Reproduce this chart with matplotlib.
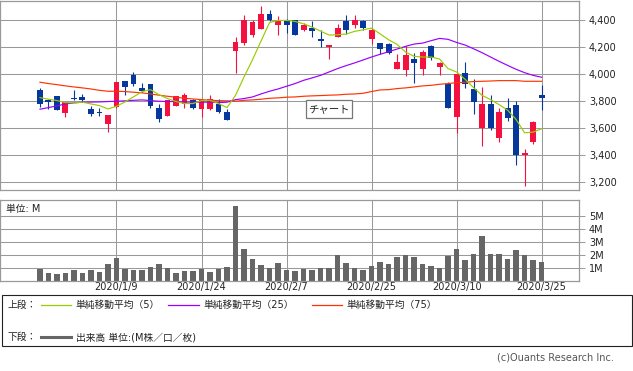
import numpy as np
import matplotlib
matplotlib.use("Agg")
import matplotlib.pyplot as plt
from matplotlib.lines import Line2D
from matplotlib.patches import Rectangle

plt.rcParams['font.family'] = ['DejaVu Sans', 'Noto Sans CJK JP']

# -------------------------
# Data
# -------------------------
opens = [3887, 3813, 3838, 3715, 3823, 3831, 3742, 3717, 3634, 3759,
         3949, 3993, 3897, 3927, 3752, 3690, 3764, 3784, 3808, 3742,
         3740, 3784, 3720, 4173, 4232, 4292, 4336, 4449, 4363, 4407,
         4407, 4329, 4343, 4264, 4205, 4277, 4393, 4363, 4393, 4260,
         4230, 4225, 4043, 4035, 4112, 4038, 4208, 4055, 3932, 3685,
         4011, 3890, 3599, 3779, 3530, 3749, 3772, 3399, 3500, 3850]
highs = [3897, 3820, 3838, 3794, 3882, 3858, 3764, 3754, 3700, 3944,
         3949, 4016, 3934, 3927, 3779, 3808, 3838, 3860, 3821, 3821,
         3845, 3816, 3742, 4277, 4437, 4407, 4504, 4481, 4430, 4412,
         4407, 4380, 4395, 4331, 4218, 4375, 4437, 4437, 4407, 4341,
         4230, 4232, 4149, 4210, 4161, 4178, 4215, 4092, 3944, 4001,
         4092, 3969, 3907, 3850, 3754, 3828, 3801, 3446, 3656, 3920]
lows = [3759, 3740, 3735, 3685, 3813, 3794, 3690, 3690, 3574, 3754,
        3846, 3912, 3870, 3754, 3646, 3690, 3764, 3749, 3742, 3685,
        3735, 3717, 3663, 4011, 4220, 4277, 4336, 4395, 4292, 4306,
        4292, 4321, 4277, 4203, 4114, 4277, 4301, 4346, 4331, 4227,
        4154, 4149, 4043, 3986, 3939, 3996, 4109, 3998, 3752, 3562,
        3902, 3710, 3471, 3587, 3500, 3656, 3330, 3175, 3481, 3735]
closes = [3784, 3797, 3735, 3794, 3818, 3808, 3705, 3715, 3700, 3942,
          3907, 3927, 3880, 3764, 3670, 3808, 3838, 3850, 3749, 3813,
          3816, 3722, 3663, 4237, 4407, 4385, 4449, 4405, 4393, 4363,
          4292, 4366, 4321, 4247, 4218, 4341, 4329, 4407, 4341, 4326,
          4186, 4161, 4090, 4141, 4084, 4166, 4124, 4085, 3752, 4001,
          3932, 3796, 3784, 3601, 3720, 3680, 3399, 3417, 3646, 3826]

ma5 = [3828, 3816, 3806, 3791, 3789, 3794, 3781, 3769, 3744, 3764,
       3796, 3833, 3873, 3887, 3850, 3821, 3799, 3784, 3784, 3806,
       3808, 3784, 3754, 3845, 3981, 4109, 4247, 4385, 4400, 4400,
       4393, 4375, 4351, 4321, 4292, 4294, 4299, 4319, 4331, 4343,
       4301, 4257, 4223, 4166, 4134, 4129, 4129, 4114, 4043, 4018,
       3964, 3902, 3845, 3813, 3776, 3735, 3666, 3567, 3572, 3597]
ma25 = [3742, 3754, 3767, 3781, 3789, 3794, 3795, 3796, 3799, 3801,
        3804, 3808, 3811, 3806, 3801, 3799, 3799, 3796, 3794, 3794,
        3794, 3791, 3794, 3813, 3821, 3833, 3855, 3875, 3892, 3912,
        3932, 3956, 3974, 3993, 4018, 4043, 4065, 4085, 4107, 4129,
        4149, 4168, 4188, 4208, 4225, 4232, 4250, 4267, 4260, 4237,
        4218, 4190, 4161, 4129, 4097, 4067, 4038, 4013, 3993, 3979]
ma75 = [3942, 3932, 3924, 3915, 3907, 3900, 3892, 3882, 3875, 3875,
        3873, 3868, 3863, 3855, 3846, 3838, 3831, 3823, 3818, 3813,
        3808, 3806, 3804, 3801, 3808, 3811, 3816, 3823, 3826, 3831,
        3833, 3838, 3841, 3843, 3846, 3848, 3853, 3855, 3860, 3873,
        3885, 3887, 3895, 3900, 3907, 3915, 3919, 3927, 3932, 3939,
        3942, 3947, 3949, 3951, 3954, 3954, 3954, 3949, 3949, 3949]

volume_m = [0.91, 0.60, 0.52, 0.60, 0.83, 0.60, 0.83, 0.68, 1.30, 1.77,
            0.91, 0.83, 0.83, 1.07, 1.30, 0.99, 0.60, 0.76, 0.76, 0.91,
            0.68, 0.91, 1.07, 5.76, 2.47, 1.69, 1.22, 0.99, 1.38, 0.83,
            0.76, 0.91, 0.83, 0.99, 0.99, 1.95, 1.38, 0.99, 0.83, 1.15,
            1.46, 1.30, 1.85, 2.00, 1.85, 1.30, 1.15, 0.99, 1.93, 2.47,
            1.61, 2.08, 3.49, 2.08, 2.08, 1.69, 2.40, 2.00, 1.61, 1.46]

date_idx = [9, 19, 29, 39, 49, 59]
date_labels = ["2020/1/9", "2020/1/24", "2020/2/7", "2020/2/25", "2020/3/10", "2020/3/25"]
price_ticks = [3200, 3400, 3600, 3800, 4000, 4200, 4400]
vol_ticks = [1, 2, 3, 4, 5]

# -------------------------
# Style
# -------------------------
W, H = 633, 371
UP, DOWN = "#f5113f", "#06379c"
GRID = "#999999"
C_MA5, C_MA25, C_MA75 = "#99cc00", "#9900ff", "#ff3300"
FS = 7


def px(x, y):
    return x / W, 1 - y / H


fig = plt.figure(figsize=(W / 100, H / 100), dpi=100)

# -------------------------
# Price panel
# -------------------------
ax = fig.add_axes([0, 1 - 190 / H, 579 / W, 189.5 / H])
x = np.arange(len(closes))
o = np.array(opens, float)
c = np.array(closes, float)
colors = [UP if cc >= oo else DOWN for oo, cc in zip(o, c)]

ax.vlines(x, lows, highs, colors=colors, linewidth=0.8, zorder=2)
body = np.maximum(np.abs(c - o), 8)
ax.bar(x, body, bottom=np.minimum(o, c), width=0.7, color=colors, linewidth=0, zorder=3)

ax.plot(x, ma75, color=C_MA75, lw=0.85, zorder=4)
ax.plot(x, ma25, color=C_MA25, lw=0.85, zorder=4)
ax.plot(x, ma5, color=C_MA5, lw=0.85, zorder=4)

ax.set_xlim(-4.7, 63.4)
ax.set_ylim(3143, 4548)
ax.set_xticks(date_idx)
ax.set_xticklabels([])
ax.set_yticks(price_ticks)
ax.set_yticklabels([f"{v:,}" for v in price_ticks])
ax.yaxis.tick_right()
ax.tick_params(axis='y', length=4.3, width=0.7, color=GRID, pad=2.8, labelsize=FS, labelcolor="#222")
ax.tick_params(axis='x', length=0)
ax.grid(True, color=GRID, lw=0.75, zorder=0)
ax.set_axisbelow(True)
for s in ax.spines.values():
    s.set_color(GRID)
    s.set_linewidth(0.9)

# "チャート" button
fig.add_artist(Rectangle(px(306, 118), 46 / W, 18 / H, transform=fig.transFigure,
                         facecolor="white", edgecolor="#777777", lw=0.9, zorder=5))
fig.text(*px(329, 109.5), "チャート", ha="center", va="center", fontsize=7.5,
         color="#222", zorder=6)

# -------------------------
# Volume panel
# -------------------------
axv = fig.add_axes([0, 1 - 280.7 / H, 579 / W, 81.2 / H])
axv.bar(x, volume_m, width=0.68, color="#666666", linewidth=0, zorder=2)
axv.set_xlim(-4.7, 63.4)
axv.set_ylim(0, 6.28)
axv.set_xticks(date_idx)
axv.set_xticklabels(date_labels)
axv.set_yticks(vol_ticks)
axv.set_yticklabels([f"{v}M" for v in vol_ticks])
axv.yaxis.tick_right()
axv.tick_params(axis='y', length=4.3, width=0.7, color=GRID, pad=2.8, labelsize=FS, labelcolor="#222")
axv.tick_params(axis='x', length=0, pad=1.2, labelsize=FS, labelcolor="#222")
axv.grid(True, color=GRID, lw=0.75, zorder=0)
axv.set_axisbelow(True)
for s in axv.spines.values():
    s.set_color(GRID)
    s.set_linewidth(0.9)
axv.text(0.01, 0.94, "単位: M", transform=axv.transAxes, ha="left", va="top",
         fontsize=FS, color="#222")

# -------------------------
# Legend box
# -------------------------
fig.add_artist(Rectangle(px(1.5, 346), 630.5 / W, 51 / H, transform=fig.transFigure,
                         facecolor="none", edgecolor="#222222", lw=0.8))

row1, row2 = 304.5, 337
fig.text(*px(8, row1), "上段：", ha="left", va="center", fontsize=FS, color="#222")
fig.text(*px(8, row2), "下段：", ha="left", va="center", fontsize=FS, color="#222")

legend_items = [
    (41, 71, 75, C_MA5, "単純移動平均（5）"),
    (168, 199, 203, C_MA25, "単純移動平均（25）"),
    (312, 342, 346, C_MA75, "単純移動平均（75）"),
]
for x0, x1, tx, col, label in legend_items:
    fig.add_artist(Line2D([px(x0, row1)[0], px(x1, row1)[0]], [px(x0, row1)[1]] * 2,
                          transform=fig.transFigure, color=col, lw=0.9))
    fig.text(*px(tx, row1), label, ha="left", va="center", fontsize=FS, color="#222")

fig.add_artist(Line2D([px(41, row2)[0], px(71, row2)[0]], [px(41, row2)[1]] * 2,
                      transform=fig.transFigure, color="#666666", lw=2.2))
fig.text(*px(76, row2), "出来高 単位:(M株／口／枚)", ha="left", va="center", fontsize=FS, color="#222")

fig.text(*px(614, 358), "(c)Ouants Research Inc.", ha="right", va="center",
         fontsize=FS, color="#555555")

fig.savefig("out.png", dpi=100)
